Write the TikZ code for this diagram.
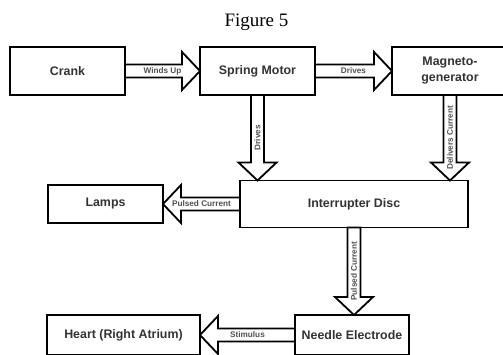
\documentclass[tikz,border=0pt]{standalone}
\usepackage{fontspec}
\setmainfont{Liberation Serif}
\setsansfont{Liberation Sans}
\usetikzlibrary{calc,backgrounds}
\definecolor{boxtext}{HTML}{333333}
\definecolor{labtext}{HTML}{505050}
\tikzset{
  block/.style={draw=black, line width=1.8pt, inner sep=0pt, outer sep=0pt,
    align=center, text=boxtext, font=\sffamily\bfseries\fontsize{12.4}{16}\selectfont},
  lab/.style={inner sep=0pt, text=labtext, font=\sffamily\bfseries\fontsize{8.2}{9}\selectfont},
  fatarrow/.style={draw=black, line width=1.8pt, fill=white, line join=miter,
    to path={let \p1=(\tikztostart), \p2=(\tikztotarget),
      \n1={veclen(\x2-\x1,\y2-\y1)},
      \n2={(\x2-\x1)/\n1}, \n3={(\y2-\y1)/\n1} in
      ({\x1-(\n3)*6.5pt},{\y1+(\n2)*6.5pt})
      -- ({\x2-(\n2)*18pt-(\n3)*6.5pt},{\y2-(\n3)*18pt+(\n2)*6.5pt})
      -- ({\x2-(\n2)*18pt-(\n3)*19pt},{\y2-(\n3)*18pt+(\n2)*19pt})
      -- (\x2,\y2)
      -- ({\x2-(\n2)*18pt+(\n3)*19pt},{\y2-(\n3)*18pt-(\n2)*19pt})
      -- ({\x2-(\n2)*18pt+(\n3)*6.5pt},{\y2-(\n3)*18pt-(\n2)*6.5pt})
      -- ({\x1+(\n3)*6.5pt},{\y1-(\n2)*6.5pt})
      -- cycle}}
}
\begin{document}
\begin{tikzpicture}[x=1pt,y=-1pt]
\useasboundingbox (0,0) rectangle (503,354);
\clip (0,0) rectangle (503,354);

\node[anchor=base, font=\rmfamily\fontsize{19}{22}\selectfont] (title) at (256.5,26.5) {Figure 5};

\node[block, minimum width=115pt, minimum height=48pt] (crank) at (67.5,71) {Crank};
\node[block, minimum width=115pt, minimum height=48pt] (spring) at (257.5,71) {Spring Motor};
\node[block, minimum width=116pt, minimum height=48pt] (magneto) at (450,71) {Magneto-\\generator};
\node[block, minimum width=115pt, minimum height=38pt] (lamps) at (105.5,204) {Lamps};
\node[block, minimum width=228pt, minimum height=47pt] (disc) at (354,204) {Interrupter Disc};
\node[block, minimum width=153pt, minimum height=40pt] (heart) at (123.5,335) {Heart (Right Atrium)};
\node[block, minimum width=114pt, minimum height=40pt] (needle) at (352,335) {Needle Electrode};

\begin{pgfonlayer}{background}
\fill[white] (0,0) rectangle (503,354);

\draw[fatarrow] (crank.east) to (crank.east -| spring.west);
\path (crank.east) -- node[lab] {Winds Up} (crank.east -| spring.west);

\draw[fatarrow] (spring.east) to (spring.east -| magneto.west);
\path (spring.east) -- node[lab] {Drives} (spring.east -| magneto.west);

\draw[fatarrow] (spring.south) to (spring.south |- disc.north);
\path (spring.south) -- node[lab, rotate=90] {Drives} (spring.south |- disc.north);

\draw[fatarrow] (magneto.south) to (magneto.south |- disc.north);
\path (magneto.south) -- node[lab, rotate=90] {Delivers Current} (magneto.south |- disc.north);

\draw[fatarrow] (disc.west) to (disc.west -| lamps.east);
\path (disc.west) -- node[lab] {Pulsed Current} (disc.west -| lamps.east);

\draw[fatarrow] (disc.south) to (disc.south |- needle.north);
\path (disc.south) -- node[lab, rotate=90] {Pulsed Current} (disc.south |- needle.north);

\draw[fatarrow] (needle.west) to (needle.west -| heart.east);
\path (needle.west) -- node[lab] {Stimulus} (needle.west -| heart.east);
\end{pgfonlayer}
\end{tikzpicture}
\end{document}
